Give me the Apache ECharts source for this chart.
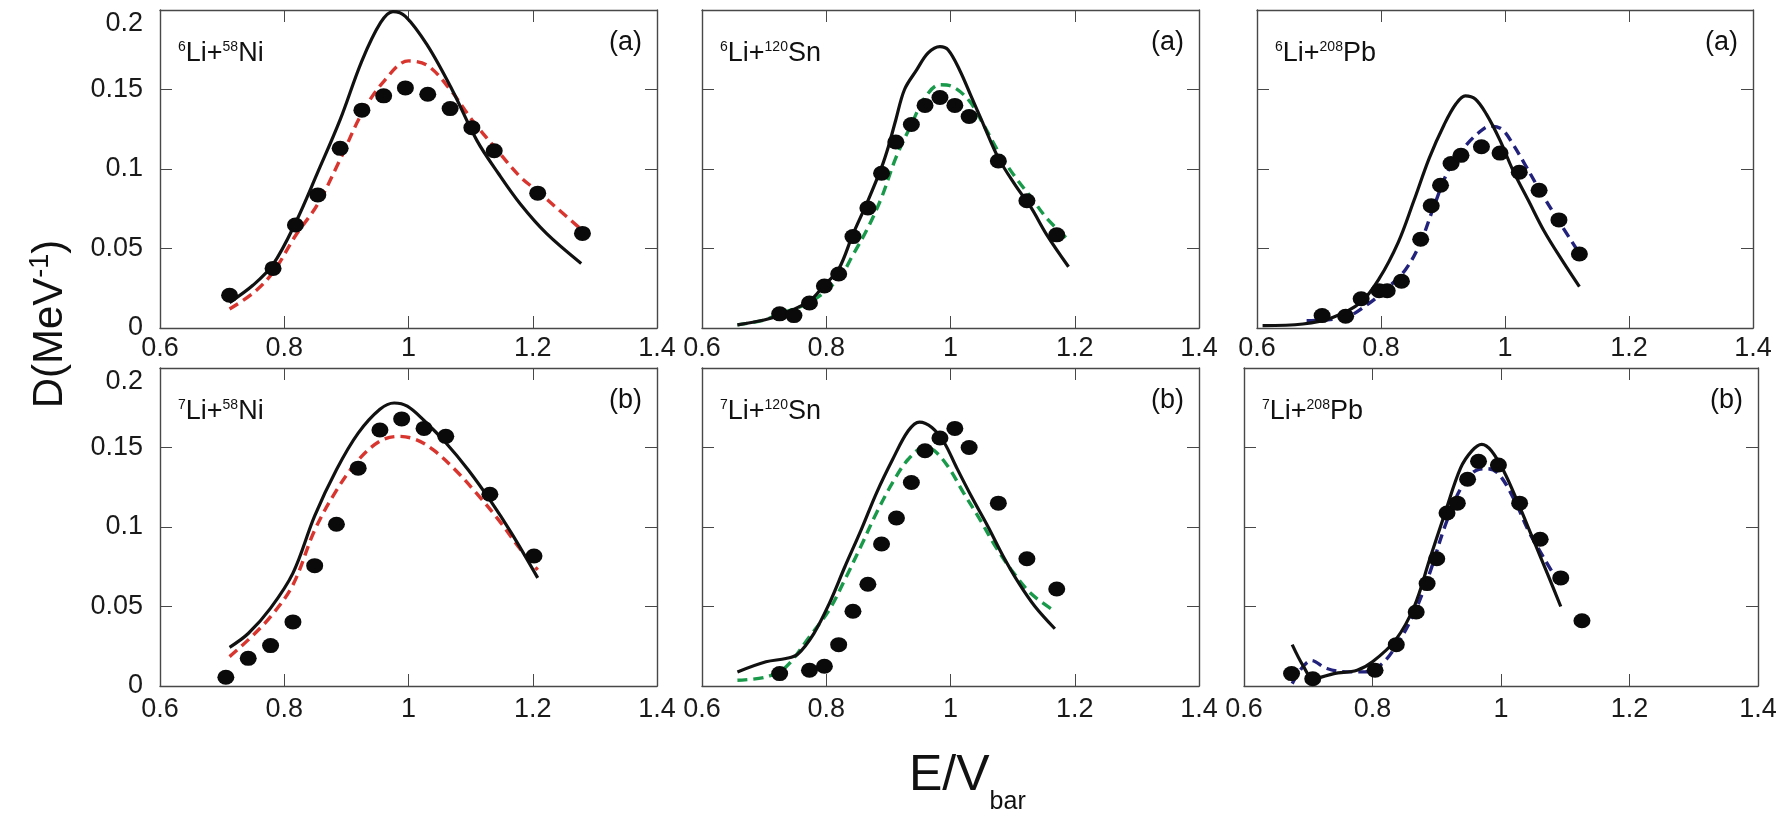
<!DOCTYPE html>
<html><head><meta charset="utf-8">
<script src="https://cdn.jsdelivr.net/npm/echarts@6/dist/echarts.min.js"></script>
<style>html,body{margin:0;padding:0;background:#fff}#c{width:1780px;height:815px}</style>
</head><body><div id="c"></div>
<script>
// ---------- axis definitions ----------
const xMin = 0.6, xMax = 1.4, xStep = 0.2;
const yMin = 0, yMax = 0.2, yStep = 0.05;

// ---------- panel texts ----------
const projMass   = ['6', '6', '6', '7', '7', '7'];
const targetMass = ['58', '120', '208', '58', '120', '208'];
const targetSym  = ['Ni', 'Sn', 'Pb', 'Ni', 'Sn', 'Pb'];
const panelTags  = ['(a)', '(a)', '(a)', '(b)', '(b)', '(b)'];
const yTitleMain = 'D(MeV', yTitleSup = '-1', yTitleEnd = ')';
const xTitleMain = 'E/V', xTitleSub = 'bar';

// ---------- data: 6Li + 58Ni ----------
const ni6ExpX = [0.712,0.782,0.818,0.854,0.890,0.925,0.960,0.995,1.031,1.067,1.102,1.138,1.208,1.280];
const ni6ExpY = [0.0206,0.0375,0.0648,0.0837,0.113,0.137,0.146,0.151,0.147,0.138,0.126,0.1115,0.0848,0.0595];
const ni6SolidX = [0.712,0.75,0.782,0.818,0.854,0.89,0.925,0.955,0.975,0.995,1.03,1.07,1.11,1.145,1.18,1.222,1.278];
const ni6SolidY = [0.016,0.027,0.040,0.066,0.098,0.131,0.168,0.192,0.199,0.196,0.178,0.150,0.118,0.097,0.078,0.0595,0.0406];
const ni6DashX = [0.712,0.75,0.782,0.818,0.854,0.89,0.925,0.96,1.0,1.031,1.067,1.102,1.138,1.18,1.208,1.24,1.278];
const ni6DashY = [0.012,0.022,0.035,0.058,0.078,0.106,0.135,0.155,0.168,0.165,0.150,0.131,0.114,0.095,0.086,0.075,0.062];

// ---------- data: 6Li + 120Sn ----------
const sn6ExpX = [0.725,0.748,0.773,0.797,0.820,0.843,0.867,0.889,0.912,0.937,0.959,0.983,1.007,1.030,1.077,1.123,1.171];
const sn6ExpY = [0.0089,0.0078,0.0157,0.0264,0.034,0.0575,0.0755,0.0973,0.117,0.128,0.140,0.145,0.140,0.133,0.105,0.080,0.0586];
const sn6SolidX = [0.657,0.70,0.725,0.773,0.797,0.820,0.843,0.867,0.889,0.90,0.912,0.926,0.945,0.964,0.983,0.996,1.015,1.034,1.053,1.077,1.104,1.13,1.155,1.19];
const sn6SolidY = [0.002,0.005,0.008,0.017,0.027,0.037,0.059,0.080,0.101,0.114,0.131,0.150,0.162,0.173,0.177,0.175,0.162,0.145,0.128,0.107,0.090,0.0755,0.0586,0.0385];
const sn6DashX = [0.657,0.70,0.725,0.773,0.820,0.843,0.867,0.889,0.912,0.937,0.959,0.983,1.002,1.03,1.053,1.077,1.104,1.13,1.155,1.187];
const sn6DashY = [0.002,0.005,0.009,0.016,0.031,0.046,0.063,0.082,0.107,0.128,0.145,0.153,0.152,0.143,0.128,0.111,0.095,0.082,0.069,0.0565];

// ---------- data: 6Li + 208Pb ----------
const pb6ExpX = [0.705,0.743,0.768,0.797,0.810,0.833,0.864,0.881,0.896,0.913,0.929,0.962,0.992,1.023,1.055,1.087,1.120];
const pb6ExpY = [0.0078,0.0074,0.0184,0.0234,0.0234,0.0294,0.0558,0.0769,0.0898,0.1035,0.1086,0.114,0.110,0.098,0.0866,0.068,0.0465];
const pb6SolidX = [0.609,0.674,0.723,0.767,0.797,0.828,0.853,0.878,0.902,0.921,0.936,0.952,0.970,0.992,1.013,1.038,1.063,1.093,1.12];
const pb6SolidY = [0.0015,0.0025,0.0068,0.016,0.031,0.054,0.080,0.107,0.128,0.141,0.146,0.144,0.1345,0.118,0.099,0.080,0.061,0.042,0.026];
const pb6DashX = [0.68,0.743,0.779,0.81,0.84,0.864,0.884,0.908,0.933,0.958,0.976,0.995,1.013,1.032,1.057,1.087,1.12];
const pb6DashY = [0.0046,0.0068,0.015,0.025,0.037,0.054,0.075,0.0986,0.113,0.123,0.127,0.125,0.1155,0.103,0.086,0.067,0.047];

// ---------- data: 7Li + 58Ni ----------
const ni7ExpX = [0.706,0.742,0.778,0.814,0.849,0.884,0.919,0.954,0.989,1.025,1.060,1.131,1.202];
const ni7ExpY = [0.0055,0.0174,0.0254,0.0403,0.0757,0.1017,0.137,0.161,0.168,0.162,0.157,0.1206,0.0818];
const ni7SolidX = [0.712,0.742,0.778,0.814,0.849,0.884,0.919,0.954,0.977,0.998,1.025,1.06,1.096,1.131,1.166,1.208];
const ni7SolidY = [0.0243,0.033,0.049,0.071,0.107,0.136,0.159,0.174,0.178,0.176,0.167,0.153,0.136,0.117,0.096,0.068];
const ni7DashX = [0.712,0.742,0.778,0.814,0.849,0.884,0.919,0.954,0.984,1.012,1.04,1.075,1.11,1.145,1.18,1.208];
const ni7DashY = [0.0185,0.029,0.0436,0.0636,0.098,0.123,0.142,0.154,0.157,0.155,0.1485,0.136,0.121,0.1045,0.086,0.073];

// ---------- data: 7Li + 120Sn ----------
const sn7ExpX = [0.725,0.773,0.797,0.820,0.843,0.867,0.889,0.913,0.937,0.959,0.983,1.007,1.030,1.077,1.123,1.171];
const sn7ExpY = [0.0078,0.0099,0.0124,0.026,0.047,0.064,0.0893,0.1057,0.128,0.148,0.156,0.162,0.150,0.115,0.080,0.061];
const sn7SolidX = [0.657,0.703,0.735,0.754,0.78,0.805,0.83,0.856,0.881,0.907,0.932,0.95,0.97,0.99,1.009,1.034,1.06,1.085,1.11,1.136,1.168];
const sn7SolidY = [0.0088,0.0152,0.0173,0.020,0.033,0.052,0.075,0.098,0.1215,0.1426,0.1605,0.166,0.1626,0.153,0.138,0.119,0.1005,0.0815,0.0647,0.050,0.036];
const sn7DashX = [0.657,0.703,0.735,0.773,0.805,0.83,0.856,0.881,0.907,0.932,0.958,0.974,0.996,1.021,1.047,1.072,1.098,1.13,1.168];
const sn7DashY = [0.0036,0.0057,0.012,0.031,0.048,0.067,0.088,0.109,0.128,0.1426,0.150,0.148,0.138,0.1215,0.105,0.088,0.073,0.058,0.047];

// ---------- data: 7Li + 208Pb ----------
const pb7ExpX = [0.674,0.707,0.804,0.837,0.868,0.885,0.900,0.916,0.932,0.948,0.965,0.996,1.029,1.061,1.093,1.126];
const pb7ExpY = [0.0078,0.0046,0.0099,0.026,0.0465,0.0644,0.080,0.1088,0.115,0.130,0.1413,0.139,0.115,0.0923,0.068,0.041];
const pb7SolidX = [0.675,0.693,0.708,0.74,0.776,0.8,0.836,0.865,0.889,0.913,0.937,0.955,0.97,0.985,1.005,1.026,1.05,1.074,1.093];
const pb7SolidY = [0.026,0.012,0.0046,0.0078,0.0099,0.0152,0.029,0.050,0.0797,0.109,0.137,0.148,0.152,0.148,0.1346,0.1156,0.0923,0.069,0.050];
const pb7DashX = [0.675,0.705,0.729,0.758,0.788,0.812,0.836,0.865,0.889,0.913,0.937,0.961,0.979,0.996,1.02,1.044,1.068,1.093];
const pb7DashY = [0.0015,0.016,0.011,0.0089,0.0089,0.013,0.0247,0.046,0.071,0.1008,0.124,0.1356,0.1367,0.1335,0.1177,0.0966,0.0797,0.0627];

// ---------- layout & styles ----------
const layout = [
  {left:160,  top:10,  width:497, height:318},
  {left:702,  top:10,  width:497, height:318},
  {left:1257, top:10,  width:496, height:318},
  {left:160,  top:368, width:497, height:318},
  {left:702,  top:368, width:497, height:318},
  {left:1244, top:368, width:514, height:318}
];
const panelData = [
  [ni6ExpX, ni6ExpY, ni6SolidX, ni6SolidY, ni6DashX, ni6DashY],
  [sn6ExpX, sn6ExpY, sn6SolidX, sn6SolidY, sn6DashX, sn6DashY],
  [pb6ExpX, pb6ExpY, pb6SolidX, pb6SolidY, pb6DashX, pb6DashY],
  [ni7ExpX, ni7ExpY, ni7SolidX, ni7SolidY, ni7DashX, ni7DashY],
  [sn7ExpX, sn7ExpY, sn7SolidX, sn7SolidY, sn7DashX, sn7DashY],
  [pb7ExpX, pb7ExpY, pb7SolidX, pb7SolidY, pb7DashX, pb7DashY]
];
const dashColors = ['#d9352f', '#19994a', '#22227c'];
const FONT = "'Liberation Sans', Arial, sans-serif";
const frameColor = '#484848';
const zip = (xs, ys) => xs.map((x, i) => [x, ys[i]]);

const grids = [], xAxes = [], yAxes = [], series = [], graphics = [];
layout.forEach((g, i) => {
  const col = i % 3, row = Math.floor(i / 3);
  grids.push({left:g.left, top:g.top, width:g.width, height:g.height, outerBoundsMode:'none', containLabel:false});
  const lineCommon = {show:true, onZero:false, lineStyle:{color:frameColor, width:1.4}};
  const tickCommon = {show:true, inside:true, length:12, lineStyle:{color:frameColor, width:1}};
  xAxes.push({
    gridIndex:i, type:'value', position:'bottom', min:xMin, max:xMax, interval:xStep,
    axisLine:lineCommon, axisTick:tickCommon, splitLine:{show:false},
    axisLabel:{show:true, fontSize:27, fontFamily:FONT, color:'#1a1a1a', margin: row === 0 ? 7 : 10}
  });
  xAxes.push({
    gridIndex:i, type:'value', position:'top', min:xMin, max:xMax, interval:xStep,
    axisLine:lineCommon, axisTick:tickCommon, splitLine:{show:false}, axisLabel:{show:false}
  });
  yAxes.push({
    gridIndex:i, type:'value', position:'left', min:yMin, max:yMax, interval:yStep,
    axisLine:lineCommon, axisTick:tickCommon, splitLine:{show:false},
    axisLabel:{show: col === 0, fontSize:27, fontFamily:FONT, color:'#1a1a1a', margin:17,
      formatter: v => Math.abs(v - yMax) < 1e-9 ? '{t|' + String(+v.toFixed(4)) + '}' : String(+v.toFixed(4)),
      rich:{t:{fontSize:27, fontFamily:FONT, color:'#1a1a1a', padding:[28,0,0,0]}}}
  });
  yAxes.push({
    gridIndex:i, type:'value', position:'right', min:yMin, max:yMax, interval:yStep,
    axisLine:lineCommon, axisTick:tickCommon, splitLine:{show:false}, axisLabel:{show:false}
  });
  const [ex, ey, sx, sy, dx, dy] = panelData[i];
  series.push({
    type:'line', xAxisIndex:2*i, yAxisIndex:2*i, data:zip(dx, dy), smooth:0.35,
    symbol:'none', lineStyle:{color:dashColors[col], width:3.4, type:[10,6]}, z:2, silent:true
  });
  series.push({
    type:'line', xAxisIndex:2*i, yAxisIndex:2*i, data:zip(sx, sy), smooth:0.35,
    symbol:'none', lineStyle:{color:'#111', width:3.2}, z:3, silent:true
  });
  series.push({
    type:'scatter', xAxisIndex:2*i, yAxisIndex:2*i, data:zip(ex, ey),
    symbol:'circle', symbolSize:[17,15], itemStyle:{color:'#0a0a0a', opacity:1}, z:4, silent:true
  });
  // panel label
  graphics.push({
    type:'text', left:g.left + 18, top:g.top + 30,
    style:{
      text:'{s|' + projMass[i] + '}{m|Li+}{s|' + targetMass[i] + '}{m|' + targetSym[i] + '}',
      rich:{
        m:{fontSize:27, fontFamily:FONT, fill:'#111', lineHeight:28},
        s:{fontSize:14, fontFamily:FONT, fill:'#111', lineHeight:14, verticalAlign:'top'}
      }
    }
  });
  graphics.push({
    type:'text', x:g.left + g.width - 15, y:g.top + 33,
    style:{text:panelTags[i], fontSize:27, fontFamily:FONT, fill:'#111', align:'right', verticalAlign:'middle'}
  });
});

// axis titles
graphics.push({
  type:'text', x:50, y:324, rotation:Math.PI / 2,
  style:{
    text:'{m|' + yTitleMain + '}{s|' + yTitleSup + '}{m|' + yTitleEnd + '}',
    align:'center', verticalAlign:'middle',
    rich:{
      m:{fontSize:42, fontFamily:FONT, fill:'#111', lineHeight:46},
      s:{fontSize:27, fontFamily:FONT, fill:'#111', lineHeight:4, verticalAlign:'top'}
    }
  }
});
graphics.push({
  type:'text', x:909, y:751,
  style:{
    text:'{m|' + xTitleMain + '}{s|' + xTitleSub + '}',
    align:'left', verticalAlign:'top',
    rich:{
      m:{fontSize:50, fontFamily:FONT, fill:'#111', lineHeight:64, verticalAlign:'top'},
      s:{fontSize:25, fontFamily:FONT, fill:'#111', lineHeight:24, verticalAlign:'bottom'}
    }
  }
});

const chart = echarts.init(document.getElementById('c'), null, {renderer:'canvas'});
chart.setOption({
  animation:false,
  backgroundColor:'#fff',
  grid:grids, xAxis:xAxes, yAxis:yAxes, series:series, graphic:graphics
});
</script></body></html>
